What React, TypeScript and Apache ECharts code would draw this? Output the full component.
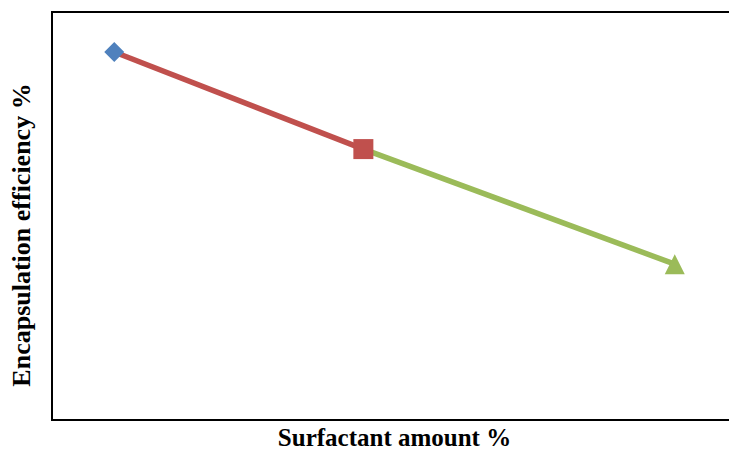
import React, { useEffect, useRef } from "react";
import * as echarts from "echarts";

// Surfactant amount (%) and encapsulation efficiency (%) for the three formulations
const surfactantAmount = [1, 5, 10];
const encapsulationEfficiency = [90.2, 66.4, 38.2];
const pointSymbols = ["diamond", "rect", "triangle"];
const pointColors = ["#4F81BD", "#C0504D", "#9BBB59"];
const segmentColors = ["#C0504D", "#9BBB59"];

export default function App() {
  const ref = useRef<HTMLDivElement>(null);

  useEffect(() => {
    if (!ref.current) return;
    const chart = echarts.init(ref.current, null, { renderer: "svg" });

    const points = surfactantAmount.map((x, i) => [x, encapsulationEfficiency[i]]);

    const segments = segmentColors.map((color, i) => ({
      type: "line",
      data: [points[i], points[i + 1]],
      showSymbol: false,
      symbol: "none",
      lineStyle: { color, width: 5.5 },
      z: 2,
    }));

    const markers = points.map((p, i) => ({
      type: "scatter",
      data: [p],
      symbol: pointSymbols[i],
      symbolSize: 20,
      itemStyle: { color: pointColors[i], opacity: 1 },
      z: 3,
    }));

    const titleStyle = {
      fontFamily: "Liberation Serif",
      fontWeight: "bold",
      fontSize: 26,
      color: "#000000",
    };

    chart.setOption({
      animation: false,
      backgroundColor: "#ffffff",
      grid: {
        left: 52,
        top: 12,
        right: -8,
        bottom: 30,
        outerBoundsMode: "none",
        containLabel: false,
        show: true,
        borderColor: "#000000",
        borderWidth: 2,
        backgroundColor: "transparent",
      },
      xAxis: {
        type: "value",
        min: 0,
        max: 11,
        name: "Surfactant amount %",
        nameLocation: "middle",
        nameGap: 6,
        nameTextStyle: { ...titleStyle, fontSize: 25, verticalAlign: "top", lineHeight: 22 },
        axisLine: { show: false },
        axisTick: { show: false },
        axisLabel: { show: false },
        splitLine: { show: false },
      },
      yAxis: {
        type: "value",
        min: 0,
        max: 100,
        name: "Encapsulation efficiency %",
        nameLocation: "middle",
        nameGap: 18,
        nameTextStyle: { ...titleStyle, verticalAlign: "bottom", padding: [0, 38, 0, 0] },
        axisLine: { show: false },
        axisTick: { show: false },
        axisLabel: { show: false },
        splitLine: { show: false },
      },
      series: [...segments, ...markers],
    });

    return () => chart.dispose();
  }, []);

  return <div ref={ref} style={{ width: 729, height: 450, position: "absolute", left: 0, top: 0 }} />;
}
